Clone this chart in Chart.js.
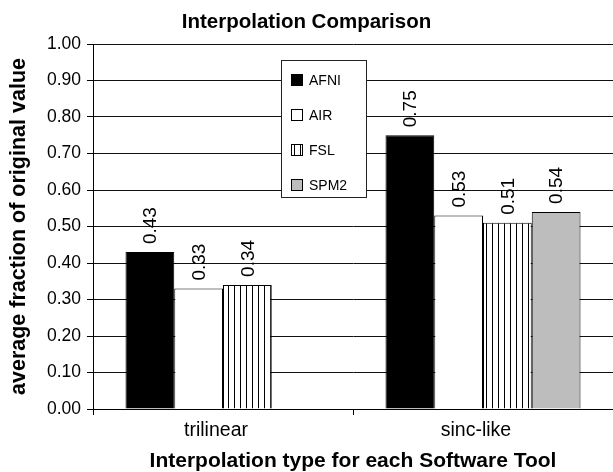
<!DOCTYPE html>
<html><head><meta charset="utf-8">
<script src="https://cdn.jsdelivr.net/npm/chart.js@4/dist/chart.umd.min.js"></script>
<style>html,body{margin:0;padding:0;background:#fff}#c{display:block}</style>
</head><body>
<canvas id="c" width="613" height="472"></canvas>
<script>
// ---- data ----
const categories = ['trilinear', 'sinc-like'];
const seriesNames = ['AFNI', 'AIR', 'FSL', 'SPM2'];
const afniValues = [0.43, 0.75];
const airValues  = [0.33, 0.53];
const fslValues  = [0.34, 0.51];
const spm2Values = [null, 0.54];
const yTickLabels = ['0.00','0.10','0.20','0.30','0.40','0.50','0.60','0.70','0.80','0.90','1.00'];
const chartTitle = 'Interpolation Comparison';
const xTitle = 'Interpolation type for each Software Tool';
const yTitle = 'average fraction of original value';

const FONT = '"Liberation Sans", Arial, Helvetica, sans-serif';

function stripePattern() {
  const p = document.createElement('canvas');
  p.width = 6; p.height = 6;
  const g = p.getContext('2d');
  g.fillStyle = '#fff'; g.fillRect(0, 0, 6, 6);
  g.fillStyle = '#000'; g.fillRect(0, 0, 1, 6);
  return document.getElementById('c').getContext('2d').createPattern(p, 'repeat');
}
const fills = ['#000000', '#ffffff', stripePattern(), '#bdbdbd'];
const seriesValues = [afniValues, airValues, fslValues, spm2Values];

const datasets = seriesNames.map((name, i) => ({
  label: name,
  data: seriesValues[i],
  backgroundColor: fills[i],
  borderColor: '#000',
  borderWidth: 1,
  barPercentage: 1.0,
  categoryPercentage: 0.75
}));

const valueLabels = {
  id: 'valueLabels',
  afterDatasetsDraw(chart) {
    const ctx = chart.ctx;
    ctx.save();
    ctx.fillStyle = '#000';
    ctx.font = '19px ' + FONT;
    chart.data.datasets.forEach((ds, di) => {
      const meta = chart.getDatasetMeta(di);
      meta.data.forEach((el, idx) => {
        const v = ds.data[idx];
        if (v === null || v === undefined) return;
        ctx.save();
        ctx.translate(el.x, el.y - 8);
        ctx.rotate(-Math.PI / 2);
        ctx.textAlign = 'left';
        ctx.textBaseline = 'middle';
        ctx.fillText(v.toFixed(2), 0, 1);
        ctx.restore();
      });
    });
    ctx.restore();
  }
};

const boxLegend = {
  id: 'boxLegend',
  afterDraw(chart) {
    const ctx = chart.ctx;
    const bx = 281, by = 60, bw = 85, bh = 137;
    ctx.save();
    ctx.fillStyle = '#fff';
    ctx.fillRect(bx, by, bw, bh);
    ctx.strokeStyle = '#222';
    ctx.lineWidth = 1;
    ctx.strokeRect(bx + 0.5, by + 0.5, bw, bh);
    ctx.font = '14px ' + FONT;
    ctx.textBaseline = 'middle';
    ctx.textAlign = 'left';
    chart.data.datasets.forEach((ds, i) => {
      const cy = by + 20 + i * 35;
      ctx.fillStyle = ds.backgroundColor;
      ctx.fillRect(bx + 10, cy - 6, 12, 12);
      ctx.strokeStyle = '#000';
      ctx.strokeRect(bx + 10.5, cy - 5.5, 11, 11);
      ctx.fillStyle = '#000';
      ctx.fillText(ds.label, bx + 28, cy + 1);
    });
    ctx.restore();
  }
};

new Chart(document.getElementById('c'), {
  type: 'bar',
  data: { labels: categories, datasets },
  plugins: [valueLabels, boxLegend],
  options: {
    responsive: false,
    animation: false,
    devicePixelRatio: 1,
    layout: { padding: { left: 0, right: 0, top: 0, bottom: 0 } },
    plugins: {
      legend: { display: false },
      tooltip: { enabled: false },
      title: {
        display: true,
        text: chartTitle,
        color: '#000',
        font: { family: FONT, size: 20.5, weight: 'bold', lineHeight: 1.2 },
        padding: { top: 10, bottom: 9.4 }
      }
    },
    scales: {
      x: {
        afterFit(s) { s.height = 63; },
        grid: { drawOnChartArea: false, drawTicks: true, tickLength: 6, color: '#000', offset: true },
        border: { display: true, color: '#000', width: 1 },
        ticks: { color: '#000', padding: 4, labelOffset: -7, font: { family: FONT, size: 19.5 } },
        title: {
          display: true, text: xTitle, color: '#000',
          font: { family: FONT, size: 21, weight: 'bold', lineHeight: 1.0 },
          padding: { top: 0, bottom: 0 }
        }
      },
      y: {
        min: 0, max: 1,
        afterFit(s) { s.width = 93; },
        grid: { color: '#111', lineWidth: 1, drawTicks: true, tickLength: 6, tickColor: '#000' },
        border: { display: true, color: '#000', width: 1 },
        ticks: {
          stepSize: 0.1, color: '#000', padding: 6,
          font: { family: FONT, size: 17.5 },
          callback: (v, i) => yTickLabels[i]
        },
        title: {
          display: true, text: yTitle, color: '#000',
          font: { family: FONT, size: 21.5, weight: 'bold', lineHeight: 1.2 },
          padding: { top: 6, bottom: 0 }
        }
      }
    }
  }
});
</script>
</body></html>
